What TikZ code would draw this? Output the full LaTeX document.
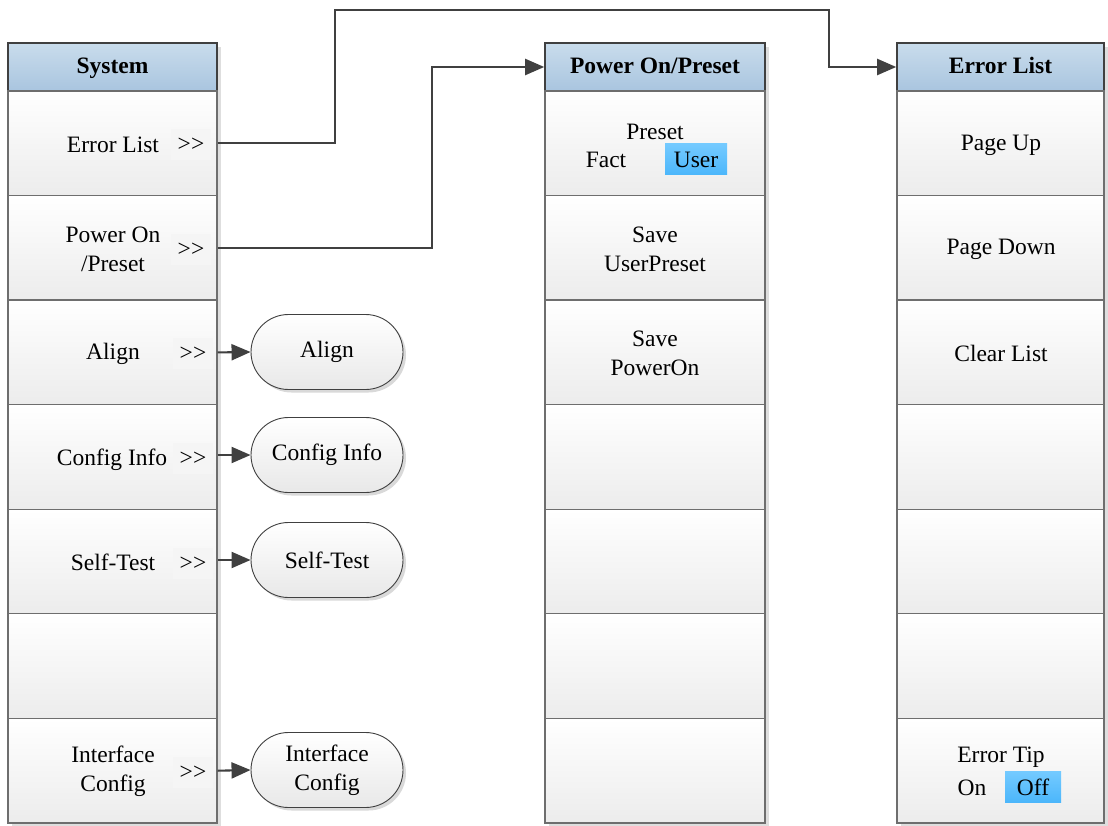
\documentclass[tikz,border=0pt]{standalone}
\usepackage{fontspec}
\setmainfont{Liberation Serif}
\usetikzlibrary{shapes.misc,shadows,arrows.meta}
\definecolor{hdrtop}{HTML}{C9DCEC}
\definecolor{hdrbot}{HTML}{A9C5DF}
\definecolor{celbot}{HTML}{ECECEC}
\definecolor{seltop}{HTML}{74CAFF}
\definecolor{selbot}{HTML}{4BB6FB}
\definecolor{linec}{HTML}{404040}
\definecolor{cellline}{HTML}{6E6E6E}
\newcommand{\gtgt}{>\kern0pt>}
\tikzset{
  txt/.style={font=\fontsize{23.5}{29}\selectfont, align=center, inner sep=0pt, yshift=-1.5pt},
  hdr/.style={draw=linec, line width=1.6pt, top color=hdrtop, bottom color=hdrbot,
    minimum height=48pt, inner sep=0pt, text height=17pt, text depth=3pt,
    font=\fontsize{23.5}{29}\selectfont\bfseries},
  cellbox/.style={draw=cellline, line width=1.3pt, top color=white, bottom color=celbot,
    minimum height=104.6pt, inner sep=0pt},
  colshadow/.style={fill=black!13, draw=none},
  gt/.style={txt, fill=black!4, minimum width=40pt, minimum height=31pt},
  sel/.style={font=\fontsize{23.5}{29}\selectfont, inner sep=0pt, text height=19pt, text depth=3pt,
    top color=seltop, bottom color=selbot, minimum height=31pt},
  pill/.style={rounded rectangle, draw=linec, line width=0.9pt, top color=white, bottom color=black!9,
    minimum width=152pt, minimum height=75pt, inner sep=0pt, align=center,
    font=\fontsize{23.5}{29}\selectfont,
    drop shadow={shadow xshift=3pt, shadow yshift=-3pt, fill=black!15, opacity=1}},
  conn/.style={draw=linec, line width=2.1pt, -{Triangle[length=19pt,width=16pt]}}
}
\begin{document}
\begin{tikzpicture}[x=1pt,y=-1pt]
\useasboundingbox (0,0) rectangle (1108,826);
\fill[white] (0,0) rectangle (1108,826);
% column shadows
\fill[colshadow] (12,47) rectangle (221,827);
\fill[colshadow] (549,47) rectangle (769,827);
\fill[colshadow] (901,47) rectangle (1108,827);
% headers
\node[hdr, minimum width=209pt] (sh) at (112.5,67) {System};
\node[hdr, minimum width=220pt] (ph) at (655,67) {Power On/Preset};
\node[hdr, minimum width=207pt] (eh) at (1000.5,67) {Error List};
% cells
\foreach \i in {1,...,7}{
  \pgfmathsetmacro{\yy}{91+104.57*(\i-0.5)}
  \node[cellbox, minimum width=209pt] (s\i) at (112.5,\yy) {};
  \node[cellbox, minimum width=220pt] (p\i) at (655,\yy) {};
  \node[cellbox, minimum width=207pt] (e\i) at (1000.5,\yy) {};
}
% System column texts
\node[txt] (t1) at (113,143) {Error List};
\node[gt] (g1) at (191,143) {\gtgt};
\node[txt] (t2) at (113,248) {Power On\\/Preset};
\node[gt] (g2) at (191,248) {\gtgt};
\node[txt] (t3) at (113,352) {Align};
\node[gt] (g3) at (193,352) {\gtgt};
\node[txt] (t4) at (112,458) {Config Info};
\node[gt] (g4) at (193,457) {\gtgt};
\node[txt] (t5) at (113,561) {Self-Test};
\node[gt] (g5) at (193,562) {\gtgt};
\node[txt] (t7) at (113,770) {Interface\\Config};
\node[gt] (g7) at (193,771) {\gtgt};
% Power On/Preset column texts
\node[txt] (u1) at (655,130) {Preset};
\node[txt] (u1a) at (606,158) {Fact};
\node[sel, minimum width=62pt] (u1b) at (696,159.5) {User};
\node[txt] (u2) at (655,248) {Save\\UserPreset};
\node[txt] (u3) at (655,352) {Save\\PowerOn};
% Error List column texts
\node[txt] (v1) at (1001,144) {Page Up};
\node[txt] (v2) at (1001,248) {Page Down};
\node[txt] (v3) at (1001,352) {Clear List};
\node[txt] (v7) at (1001,756) {Error Tip};
\node[txt] (v7a) at (972,786) {On};
\node[sel, minimum width=56pt] (v7b) at (1033,787) {Off};
% pills
\node[pill] (a3) at (327,352) {Align};
\node[pill] (a4) at (327,455) {Config Info};
\node[pill] (a5) at (327,560) {Self-Test};
\node[pill] (a7) at (327,770) {Interface\\Config};
% connectors
\draw[conn] (s3.east) -- (a3.west);
\draw[conn] (s4.east |- a4.west) -- (a4.west);
\draw[conn] (s5.east |- a5.west) -- (a5.west);
\draw[conn] (s7.east) -- (a7.west);
\draw[conn] (s1.east) -| (335,10) -| (829,67) -- (eh.west);
\draw[conn] (s2.east) -| (432,67) -- (ph.west);
\end{tikzpicture}
\end{document}
